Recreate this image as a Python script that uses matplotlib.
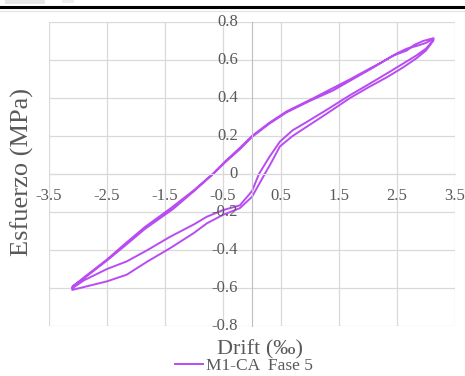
import matplotlib
matplotlib.use("Agg")
import matplotlib.pyplot as plt
from matplotlib.lines import Line2D
from matplotlib.patches import Rectangle
from matplotlib.transforms import ScaledTranslation

# drift (per mil) / stress (MPa), branch by branch
# first loading, from zero up to the positive peak
load0_x = [0.22, 0.35, 0.48, 0.7, 0.95, 1.3, 1.69, 2.0, 2.33, 2.6, 2.84, 3.0, 3.12]
load0_y = [0.0, 0.07, 0.145, 0.2, 0.25, 0.32, 0.40, 0.455, 0.51, 0.56, 0.61, 0.65, 0.70]

# unloading, positive peak -> negative peak (cycle 1)
unl1_x = [3.12, 3.0, 2.85, 2.67, 2.5, 2.3, 2.09, 1.8, 1.4, 1.0, 0.6, 0.3, 0.0, -0.21,
          -0.45, -0.67, -1.0, -1.36, -1.85, -2.2, -2.5, -2.9, -3.09]
unl1_y = [0.71, 0.69, 0.675, 0.66, 0.635, 0.60, 0.56, 0.51, 0.44, 0.385, 0.325, 0.265,
          0.195, 0.13, 0.065, 0.0, -0.09, -0.184, -0.29, -0.38, -0.455, -0.55, -0.59]

# reloading, negative peak -> positive peak (cycle 1)
rel1_x = [-3.09, -2.9, -2.5, -2.16, -1.8, -1.41, -1.0, -0.78, -0.5, -0.21, 0.0, 0.12,
          0.3, 0.48, 0.7, 0.95, 1.3, 1.69, 2.0, 2.33, 2.6, 2.84, 3.0, 3.13]
rel1_y = [-0.60, -0.56, -0.50, -0.46, -0.40, -0.33, -0.265, -0.225, -0.19, -0.165,
          -0.09, 0.0, 0.09, 0.17, 0.23, 0.275, 0.34, 0.415, 0.47, 0.53, 0.58, 0.625,
          0.66, 0.705]

# unloading, positive peak -> negative peak (cycle 2)
unl2_x = [3.13, 2.95, 2.8, 2.67, 2.45, 2.25, 2.0, 1.7, 1.35, 1.0, 0.6, 0.3, 0.0, -0.2,
          -0.45, -0.68, -1.0, -1.4, -1.85, -2.2, -2.5, -2.9, -3.1]
unl2_y = [0.715, 0.70, 0.68, 0.65, 0.625, 0.59, 0.55, 0.50, 0.445, 0.39, 0.33, 0.27,
          0.20, 0.14, 0.07, 0.0, -0.085, -0.18, -0.28, -0.37, -0.45, -0.545, -0.595]

# reloading, negative peak -> zero (cycle 2)
rel2_x = [-3.1, -2.9, -2.5, -2.16, -1.8, -1.41, -1.0, -0.78, -0.5, -0.21, 0.0, 0.22]
rel2_y = [-0.61, -0.595, -0.565, -0.53, -0.46, -0.39, -0.31, -0.26, -0.215, -0.18,
          -0.12, 0.0]

x_ticks = [-3.5, -2.5, -1.5, -0.5, 0.5, 1.5, 2.5, 3.5]
y_ticks = [-0.8, -0.6, -0.4, -0.2, 0, 0.2, 0.4, 0.6, 0.8]

drift = load0_x + unl1_x + rel1_x + unl2_x + rel2_x
stress = load0_y + unl1_y + rel1_y + unl2_y + rel2_y

purple = "#B84CF2"
grey_txt = "#595959"
serif = "Liberation Serif"

fig = plt.figure(figsize=(4.65, 3.76), dpi=100)
ax = fig.add_axes([49 / 465, 1 - 326 / 376, 406 / 465, 304 / 376])

ax.plot(drift, stress, color=purple, lw=1.4)

ax.set_xlim(-3.5, 3.5)
ax.set_ylim(-0.8, 0.8)
ax.set_xticks(x_ticks)
ax.set_yticks(y_ticks)
ax.set_xticklabels([f"{v:g}" for v in x_ticks])
ax.set_yticklabels([])
ax.grid(True, color="#D9D9D9", lw=0.9)
ax.set_axisbelow(True)

# excel style: axes cross at zero
ax.spines["left"].set_position(("data", 0))
ax.spines["bottom"].set_position(("data", 0))
ax.spines["left"].set_color("#BFBFBF")
ax.spines["bottom"].set_color("#D9D9D9")
ax.spines["top"].set_visible(False)
ax.spines["right"].set_visible(False)
ax.tick_params(length=0, labelcolor=grey_txt, labelsize=12)
ax.tick_params(axis="x", pad=10)
for lb in ax.get_xticklabels():
    lb.set_family(serif)

# y tick labels sit just left of the vertical axis at x = 0
shift = ax.transData + ScaledTranslation(-10 / 72, 0, fig.dpi_scale_trans)
for v in y_ticks:
    ax.text(0, v, f"{v:g}", transform=shift, ha="right", va="center",
            family=serif, fontsize=12, color=grey_txt, clip_on=False)

fig.text(22 / 465, 1 - 172 / 376, "Esfuerzo (MPa)", rotation=90, ha="center",
         va="center", family=serif, fontsize=19, color=grey_txt)
fig.text(260 / 465, 1 - 350 / 376, "Drift (‰)", ha="center", va="center",
         family=serif, fontsize=16, color=grey_txt)

h = Line2D([], [], color=purple, lw=1.4)
fig.legend([h], ["M1-CA  Fase 5"], loc="center", bbox_to_anchor=(244 / 465, 1 - 366 / 376),
           frameon=False, handlelength=1.6, handletextpad=0.15,
           prop={"family": serif, "size": 12.5}, labelcolor=grey_txt)

# bits of the page above the chart
fig.add_artist(Line2D([0, 1], [1 - 7 / 376] * 2, color="black", lw=2.2))
fig.add_artist(Line2D([0, 1], [1 - 11 / 376] * 2, color="#E3E3E3", lw=0.8))
fig.add_artist(Rectangle((5 / 465, 1 - 4 / 376), 40 / 465, 4 / 376,
                         color="#E6E6E6", lw=0))
fig.add_artist(Rectangle((62 / 465, 1 - 3 / 376), 12 / 465, 3 / 376,
                         color="#EEEEEE", lw=0))

fig.savefig("out.png", dpi=100)
